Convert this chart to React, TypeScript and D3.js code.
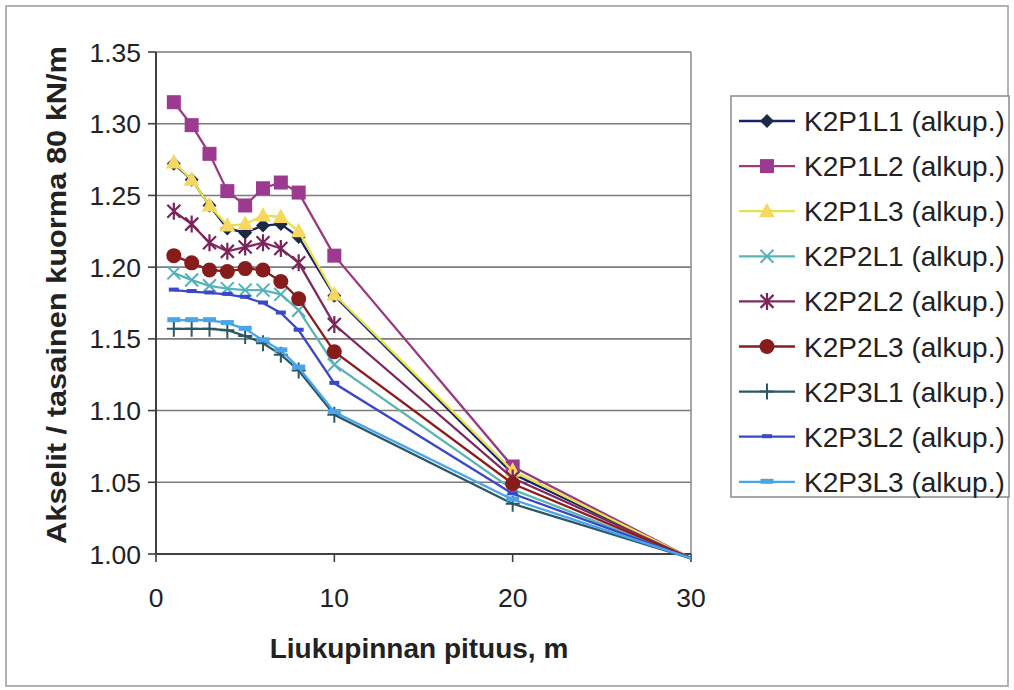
import React from "react";
import * as d3 from "d3";

const xValues = [1, 2, 3, 4, 5, 6, 7, 8, 10, 20, 30];
const seriesNames = [
  "K2P1L1 (alkup.)",
  "K2P1L2 (alkup.)",
  "K2P1L3 (alkup.)",
  "K2P2L1 (alkup.)",
  "K2P2L2 (alkup.)",
  "K2P2L3 (alkup.)",
  "K2P3L1 (alkup.)",
  "K2P3L2 (alkup.)",
  "K2P3L3 (alkup.)",
];
const k2p1l1 = [1.272, 1.261, 1.243, 1.227, 1.224, 1.229, 1.230, 1.221, 1.180, 1.056, 0.997];
const k2p1l2 = [1.315, 1.299, 1.279, 1.253, 1.243, 1.255, 1.259, 1.252, 1.208, 1.061, 0.997];
const k2p1l3 = [1.273, 1.261, 1.243, 1.229, 1.230, 1.236, 1.235, 1.225, 1.181, 1.058, 0.997];
const k2p2l1 = [1.196, 1.191, 1.187, 1.185, 1.184, 1.184, 1.181, 1.170, 1.132, 1.045, 0.997];
const k2p2l2 = [1.239, 1.230, 1.217, 1.211, 1.214, 1.217, 1.213, 1.203, 1.160, 1.053, 0.997];
const k2p2l3 = [1.208, 1.203, 1.198, 1.197, 1.199, 1.198, 1.190, 1.178, 1.141, 1.049, 0.997];
const k2p3l1 = [1.157, 1.157, 1.157, 1.156, 1.152, 1.147, 1.139, 1.128, 1.097, 1.035, 0.997];
const k2p3l2 = [1.184, 1.183, 1.182, 1.181, 1.179, 1.175, 1.168, 1.156, 1.119, 1.042, 0.997];
const k2p3l3 = [1.163, 1.163, 1.163, 1.161, 1.157, 1.149, 1.142, 1.130, 1.099, 1.038, 0.997];
const seriesValues = [k2p1l1, k2p1l2, k2p1l3, k2p2l1, k2p2l2, k2p2l3, k2p3l1, k2p3l2, k2p3l3];
const yTicks = [1.0, 1.05, 1.1, 1.15, 1.2, 1.25, 1.3, 1.35];
const xTicks = [0, 10, 20, 30];
const xTitle = "Liukupinnan pituus, m";
const yTitle = "Akselit / tasainen kuorma 80 kN/m";

type Style = { line: string; marker: string; shape: string };
const styles: Style[] = [
  { line: "#1a1f6e", marker: "#1c2a44", shape: "diamond" },
  { line: "#9a3a80", marker: "#9b3a8e", shape: "square" },
  { line: "#e4e44a", marker: "#f6d860", shape: "triangle" },
  { line: "#5ab4b4", marker: "#52b0c0", shape: "x" },
  { line: "#7e2a60", marker: "#7a2458", shape: "star" },
  { line: "#8a1e1e", marker: "#861c1c", shape: "circle" },
  { line: "#2c5866", marker: "#2c5866", shape: "plus" },
  { line: "#3a48c8", marker: "#3a48c8", shape: "dash" },
  { line: "#4aa4e8", marker: "#4aa4e8", shape: "dash2" },
];

const FONT = "'Liberation Sans', Arial, sans-serif";

function Marker({ x, y, s }: { x: number; y: number; s: Style }) {
  const c = s.marker;
  switch (s.shape) {
    case "diamond":
      return <path d={`M${x},${y - 7}L${x + 7},${y}L${x},${y + 7}L${x - 7},${y}Z`} fill={c} />;
    case "square":
      return <rect x={x - 7} y={y - 7} width={14} height={14} fill={c} />;
    case "triangle":
      return <path d={`M${x},${y - 8.5}L${x + 8},${y + 6}L${x - 8},${y + 6}Z`} fill={c} />;
    case "x":
      return (
        <path d={`M${x - 6.5},${y - 6.5}L${x + 6.5},${y + 6.5}M${x - 6.5},${y + 6.5}L${x + 6.5},${y - 6.5}`} stroke={c} strokeWidth={2} />
      );
    case "star":
      return (
        <path
          d={`M${x - 6.5},${y - 6.5}L${x + 6.5},${y + 6.5}M${x - 6.5},${y + 6.5}L${x + 6.5},${y - 6.5}M${x},${y - 8.5}L${x},${y + 8.5}`}
          stroke={c}
          strokeWidth={2.2}
        />
      );
    case "circle":
      return <circle cx={x} cy={y} r={7.5} fill={c} />;
    case "plus":
      return <path d={`M${x - 7},${y}L${x + 7},${y}M${x},${y - 8}L${x},${y + 8}`} stroke={c} strokeWidth={2} />;
    case "dash":
      return <rect x={x - 5} y={y - 2.5} width={10} height={4} fill={c} />;
    case "dash2":
      return <rect x={x - 6.5} y={y - 3} width={13} height={5} fill={c} />;
    default:
      return null;
  }
}

export default function App() {
  const W = 1014;
  const H = 690;
  const left = 156;
  const right = 691;
  const top = 52;
  const bottom = 554;
  const x = d3.scaleLinear().domain([0, 30]).range([left, right]);
  const y = d3.scaleLinear().domain([1.0, 1.35]).range([bottom, top]);
  const line = d3
    .line<[number, number]>()
    .x((d) => x(d[0]))
    .y((d) => y(d[1]));

  const legendX = 731;
  const legendY = 96;
  const legendRowStart = 121;
  const legendStep = 45.1;
  const lastX = xValues[xValues.length - 1];

  return (
    <svg
      width={W}
      height={H}
      style={{ position: "absolute", left: 0, top: 0, background: "#fff" }}
      fontFamily={FONT}
    >
      <rect x={0} y={0} width={W} height={H} fill="#fff" />
      <rect x={6} y={6} width={1002} height={680} fill="none" stroke="#9a9a9a" strokeWidth={1.5} />

      {/* gridlines */}
      {yTicks.map((t) => (
        <line key={t} x1={left} x2={right} y1={y(t)} y2={y(t)} stroke="#7c7c7c" strokeWidth={1.6} />
      ))}
      <line x1={right} x2={right} y1={top} y2={bottom} stroke="#8a8a8a" strokeWidth={1.5} />

      {/* axes */}
      <line x1={left} x2={left} y1={top} y2={bottom} stroke="#404040" strokeWidth={2} />
      <line x1={left} x2={right} y1={bottom} y2={bottom} stroke="#404040" strokeWidth={2} />
      {yTicks.map((t) => (
        <g key={"yt" + t}>
          <line x1={left - 8} x2={left} y1={y(t)} y2={y(t)} stroke="#404040" strokeWidth={1.6} />
          <text x={141} y={y(t)} dy="0.36em" textAnchor="end" fontSize={26.5} fill="#222">
            {d3.format(".2f")(t)}
          </text>
        </g>
      ))}
      {xTicks.map((t) => (
        <g key={"xt" + t}>
          <line x1={x(t)} x2={x(t)} y1={bottom} y2={bottom + 8} stroke="#404040" strokeWidth={1.6} />
          <text x={x(t)} y={597} dy="0.36em" textAnchor="middle" fontSize={26.5} fill="#222">
            {t}
          </text>
        </g>
      ))}

      {/* series */}
      {seriesValues.map((vals, i) => {
        const pts = xValues.map((xv, j) => [xv, vals[j]] as [number, number]);
        return (
          <g key={seriesNames[i]}>
            <path d={line(pts) || ""} fill="none" stroke={styles[i].line} strokeWidth={2.3} />
            {pts
              .filter((p) => p[0] !== lastX)
              .map((p, j) => (
                <Marker key={j} x={x(p[0])} y={y(p[1])} s={styles[i]} />
              ))}
          </g>
        );
      })}

      {/* titles */}
      <text x={419} y={658} textAnchor="middle" fontSize={28} fontWeight="bold" fill="#222">
        {xTitle}
      </text>
      <g transform={`translate(66,295) rotate(-90) scale(1.1,1)`}>
        <text x={0} y={0} textAnchor="middle" fontSize={28} fontWeight="bold" fill="#222">
          {yTitle}
        </text>
      </g>

      {/* legend */}
      <rect x={legendX} y={legendY} width={278} height={401} fill="#fff" stroke="#8a8a8a" strokeWidth={1.5} />
      {seriesNames.map((name, i) => {
        const cy = legendRowStart + i * legendStep;
        return (
          <g key={"lg" + i}>
            <line x1={739} x2={795} y1={cy} y2={cy} stroke={styles[i].line} strokeWidth={2.3} />
            <Marker x={767} y={cy} s={styles[i]} />
            <text x={804} y={cy} dy="0.36em" fontSize={28} fill="#222">
              {name}
            </text>
          </g>
        );
      })}
    </svg>
  );
}
